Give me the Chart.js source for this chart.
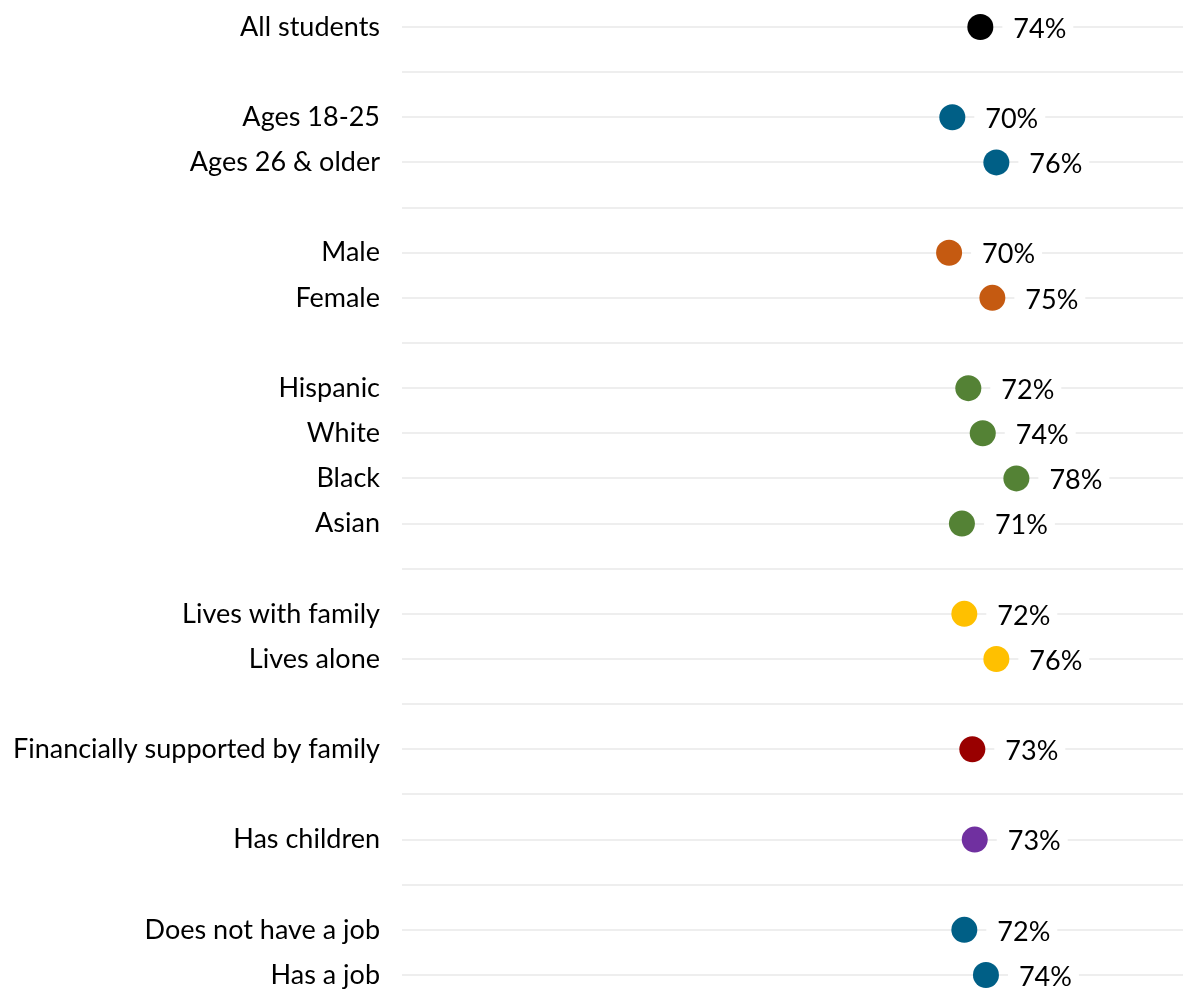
<!DOCTYPE html>
<html><head><meta charset="utf-8">
<script src="https://cdn.jsdelivr.net/npm/chart.js@4"></script>
<style>html,body{margin:0;padding:0;background:#fff;overflow:hidden}</style>
</head><body>
<canvas id="c" width="1183" height="990"></canvas>
<script>
const categories = ["All students","","Ages 18-25","Ages 26 & older","","Male","Female","","Hispanic","White","Black","Asian","","Lives with family","Lives alone","","Financially supported by family","","Has children","","Does not have a job","Has a job"];
const values = [73.7,null,70.2,75.7,null,69.8,75.2,null,72.2,74.0,78.2,71.4,null,71.7,75.7,null,72.7,null,73.0,null,71.7,74.4];
const valueLabels = ["74%",null,"70%","76%",null,"70%","75%",null,"72%","74%","78%","71%",null,"72%","76%",null,"73%",null,"73%",null,"72%","74%"];
const rowGroups = ["all",null,"age","age",null,"gender","gender",null,"race","race","race","race",null,"living","living",null,"support",null,"children",null,"job","job"];
const groupColors = {all:"#000000", age:"#005F86", gender:"#C55A11", race:"#548235", living:"#FFC000", support:"#990000", children:"#7030A0", job:"#005F86"};

const FONT = "Lato";
const pointColors = rowGroups.map(g => g ? groupColors[g] : "rgba(0,0,0,0)");

const labelPlugin = {
  id: "valueLabels",
  afterDatasetsDraw(chart) {
    const ctx = chart.ctx;
    const meta = chart.getDatasetMeta(0);
    ctx.save();
    ctx.font = "27px " + FONT;
    ctx.textBaseline = "middle";
    ctx.textAlign = "left";
    meta.data.forEach((pt, i) => {
      const txt = valueLabels[i];
      if (!txt || values[i] == null || !isFinite(pt.x)) return;
      const w = ctx.measureText(txt).width;
      const bx = pt.x + 22, tx = pt.x + 33;
      ctx.fillStyle = "#ffffff";
      ctx.fillRect(bx, pt.y - 14, tx - bx + w + 7, 30);
      ctx.fillStyle = "#000000";
      ctx.fillText(txt, tx, pt.y + 2);
    });
    ctx.restore();
  }
};

new Chart(document.getElementById("c"), {
  type: "line",
  data: {
    labels: categories,
    datasets: [{
      data: values,
      showLine: false,
      clip: false,
      pointRadius: 13,
      pointHoverRadius: 13,
      pointBorderWidth: 0,
      pointBackgroundColor: pointColors,
      pointBorderColor: pointColors
    }]
  },
  options: {
    indexAxis: "y",
    responsive: false,
    animation: false,
    events: [],
    layout: { autoPadding: false, padding: { top: 27, bottom: 15, left: 0, right: 0 } },
    plugins: { legend: { display: false }, tooltip: { enabled: false } },
    scales: {
      x: { type: "linear", display: false, min: 1.5, max: 99 },
      y: {
        type: "category",
        offset: false,
        border: { display: false },
        grid: { color: "#eeeeee", lineWidth: 2, drawTicks: false },
        ticks: {
          font: { family: FONT, size: 27 },
          color: "#000000",
          padding: 22,
          autoSkip: false,
          showLabelBackdrop: true,
          backdropColor: c => (c.tick && c.tick.label) ? "#ffffff" : "rgba(0,0,0,0)",
          backdropPadding: { top: 2, bottom: 2, left: 2, right: 30 }
        },
        afterFit: s => { s.width = 402; s.paddingTop = 0; s.paddingBottom = 0; }
      }
    }
  },
  plugins: [labelPlugin]
});
</script>
</body></html>
